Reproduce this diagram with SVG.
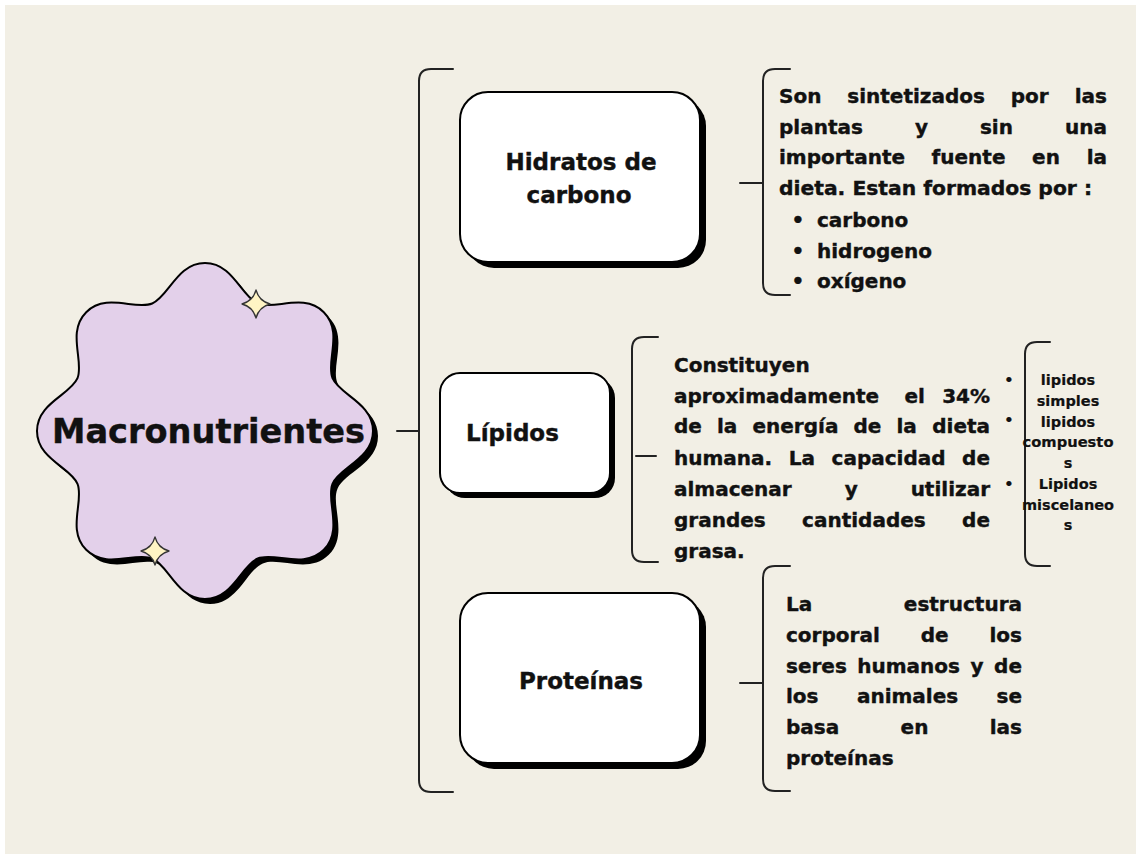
<svg xmlns="http://www.w3.org/2000/svg" width="1136" height="854" viewBox="0 0 1136 854">
<style>
.t{font-family:"DejaVu Sans","Liberation Sans",sans-serif;font-weight:700;fill:#111;stroke:#111;stroke-width:0.4}
.b{font-size:20px}
.n{font-size:23px}
.s{font-size:14.5px;text-anchor:middle;stroke-width:0.2}
.e{text-anchor:end}
.m{text-anchor:middle}
.ln{fill:none;stroke:#222;stroke-width:2;stroke-linecap:round}
.box{fill:#fff;stroke:#000;stroke-width:2}
.sh{fill:#000}
.star{fill:#FFF4C4;stroke:#333;stroke-width:1.3;stroke-linejoin:round}
</style>
<defs>
<path id="blob" d="M373 431 C373 459 339.4 467.2 332.5 483.8 C325.6 500.4 343.6 530 323.8 549.8 C304 569.6 274.4 551.6 257.8 558.5 C241.2 565.4 233 599 205 599 C177 599 168.8 565.4 152.2 558.5 C135.6 551.6 106 569.6 86.2 549.8 C66.4 530 84.4 500.4 77.5 483.8 C70.6 467.2 37 459 37 431 C37 403 70.6 394.8 77.5 378.2 C84.4 361.6 66.4 332 86.2 312.2 C106 292.4 135.6 310.4 152.2 303.5 C168.8 296.6 177 263 205 263 C233 263 241.2 296.6 257.8 303.5 C274.4 310.4 304 292.4 323.8 312.2 C343.6 332 325.6 361.6 332.5 378.2 C339.4 394.8 373 403 373 431 Z"/>
<path id="star4" d="M0 -14 Q3 -3 14 0 Q3 3 0 14 Q-3 3 -14 0 Q-3 -3 0 -14 Z"/>
</defs>
<rect x="0" y="0" width="1136" height="854" fill="#fff"/>
<rect x="5" y="5" width="1131" height="849" fill="#F2EFE5"/>

<g id="connectors">
<path class="ln" d="M453 69 H431 Q419 69 419 81 V780 Q419 792 431 792 H453"/>
<path class="ln" d="M397 431 H419"/>
<path class="ln" d="M740 183 H762"/>
<path class="ln" d="M790 69 H775 Q763 69 763 81 V283 Q763 295 775 295 H790"/>
<path class="ln" d="M636 456 H656"/>
<path class="ln" d="M658 337 H644 Q632 337 632 349 V550 Q632 562 644 562 H658"/>
<path class="ln" d="M1050 342 H1037 Q1025 342 1025 354 V554 Q1025 566 1037 566 H1050"/>
<path class="ln" d="M740 683 H762"/>
<path class="ln" d="M790 566 H775 Q763 566 763 578 V779 Q763 791 775 791 H790"/>
</g>

<g id="macronutrientes">
<use href="#blob" transform="translate(5,5)" fill="#000"/>
<use href="#blob" fill="#E3D0EA" stroke="#000" stroke-width="2"/>
<use href="#star4" class="star" transform="translate(256,304)"/>
<use href="#star4" class="star" transform="translate(155,551)"/>
<text class="t" x="52" y="443" font-size="33" textLength="313" lengthAdjust="spacingAndGlyphs">Macronutrientes</text>
</g>

<g id="hidratos">
<rect class="sh" x="466" y="98" width="240" height="170" rx="28"/>
<rect class="box" x="460" y="92" width="240" height="170" rx="28"/>
<text class="t n m" x="581" y="170">Hidratos de</text>
<text class="t n m" x="579" y="203">carbono</text>
</g>

<g id="hidratos-desc">
<text class="t b" x="779" y="103">Son</text>
<text class="t b" x="847.3" y="103">sintetizados</text>
<text class="t b" x="1010.8" y="103">por</text>
<text class="t b e" x="1107" y="103">las</text>
<text class="t b" x="779" y="134">plantas</text>
<text class="t b" x="914.9" y="134">y</text>
<text class="t b" x="979.9" y="134">sin</text>
<text class="t b e" x="1107" y="134">una</text>
<text class="t b" x="779" y="164">importante</text>
<text class="t b" x="931.6" y="164">fuente</text>
<text class="t b" x="1032.1" y="164">en</text>
<text class="t b e" x="1107" y="164">la</text>
<text class="t b" x="779" y="195" textLength="313" lengthAdjust="spacingAndGlyphs">dieta. Estan formados por :</text>
<text class="t b m" x="798" y="227">•</text>
<text class="t b" x="817" y="227">carbono</text>
<text class="t b m" x="798" y="258">•</text>
<text class="t b" x="817" y="258">hidrogeno</text>
<text class="t b m" x="798" y="288">•</text>
<text class="t b" x="817" y="288">oxígeno</text>
</g>

<g id="lipidos">
<rect class="sh" x="445" y="378" width="170" height="120" rx="20"/>
<rect class="box" x="440" y="373" width="170" height="120" rx="20"/>
<text class="t n" x="466" y="441">Lípidos</text>
</g>

<g id="lipidos-desc">
<text class="t b" x="674" y="372">Constituyen</text>
<text class="t b" x="674" y="403">aproximadamente</text>
<text class="t b" x="904.5" y="403">el</text>
<text class="t b e" x="990" y="403">34%</text>
<text class="t b" x="674" y="433">de</text>
<text class="t b" x="717" y="433">la</text>
<text class="t b" x="752.5" y="433">energía</text>
<text class="t b" x="853.5" y="433">de</text>
<text class="t b" x="896.5" y="433">la</text>
<text class="t b e" x="990" y="433">dieta</text>
<text class="t b" x="674" y="465">humana.</text>
<text class="t b" x="788.8" y="465">La</text>
<text class="t b" x="831.6" y="465">capacidad</text>
<text class="t b e" x="990" y="465">de</text>
<text class="t b" x="674" y="496">almacenar</text>
<text class="t b" x="844.7" y="496">y</text>
<text class="t b e" x="990" y="496">utilizar</text>
<text class="t b" x="674" y="527">grandes</text>
<text class="t b" x="802.1" y="527">cantidades</text>
<text class="t b e" x="990" y="527">de</text>
<text class="t b" x="674" y="558">grasa.</text>
</g>

<g id="lipidos-tipos">
<text class="t s" x="1009" y="385">•</text>
<text class="t s" x="1009" y="425">•</text>
<text class="t s" x="1009" y="489">•</text>
<text class="t s" x="1068" y="385">lipidos</text>
<text class="t s" x="1068" y="406">simples</text>
<text class="t s" x="1068" y="427">lipidos</text>
<text class="t s" x="1068" y="447" textLength="91" lengthAdjust="spacingAndGlyphs">compuesto</text>
<text class="t s" x="1068" y="468">s</text>
<text class="t s" x="1068" y="489">Lipidos</text>
<text class="t s" x="1068" y="510" textLength="92" lengthAdjust="spacingAndGlyphs">miscelaneo</text>
<text class="t s" x="1068" y="530">s</text>
</g>

<g id="proteinas">
<rect class="sh" x="466" y="599" width="240" height="170" rx="28"/>
<rect class="box" x="460" y="593" width="240" height="170" rx="28"/>
<text class="t n m" x="581" y="689">Proteínas</text>
</g>

<g id="proteinas-desc">
<text class="t b" x="786" y="611">La</text>
<text class="t b e" x="1022" y="611">estructura</text>
<text class="t b" x="786" y="642">corporal</text>
<text class="t b" x="920.7" y="642">de</text>
<text class="t b e" x="1022" y="642">los</text>
<text class="t b" x="786" y="673">seres</text>
<text class="t b" x="857.3" y="673">humanos</text>
<text class="t b" x="970.5" y="673">y</text>
<text class="t b e" x="1022" y="673">de</text>
<text class="t b" x="786" y="703">los</text>
<text class="t b" x="856.9" y="703">animales</text>
<text class="t b e" x="1022" y="703">se</text>
<text class="t b" x="786" y="734">basa</text>
<text class="t b" x="900.6" y="734">en</text>
<text class="t b e" x="1022" y="734">las</text>
<text class="t b" x="786" y="765">proteínas</text>
</g>
</svg>
